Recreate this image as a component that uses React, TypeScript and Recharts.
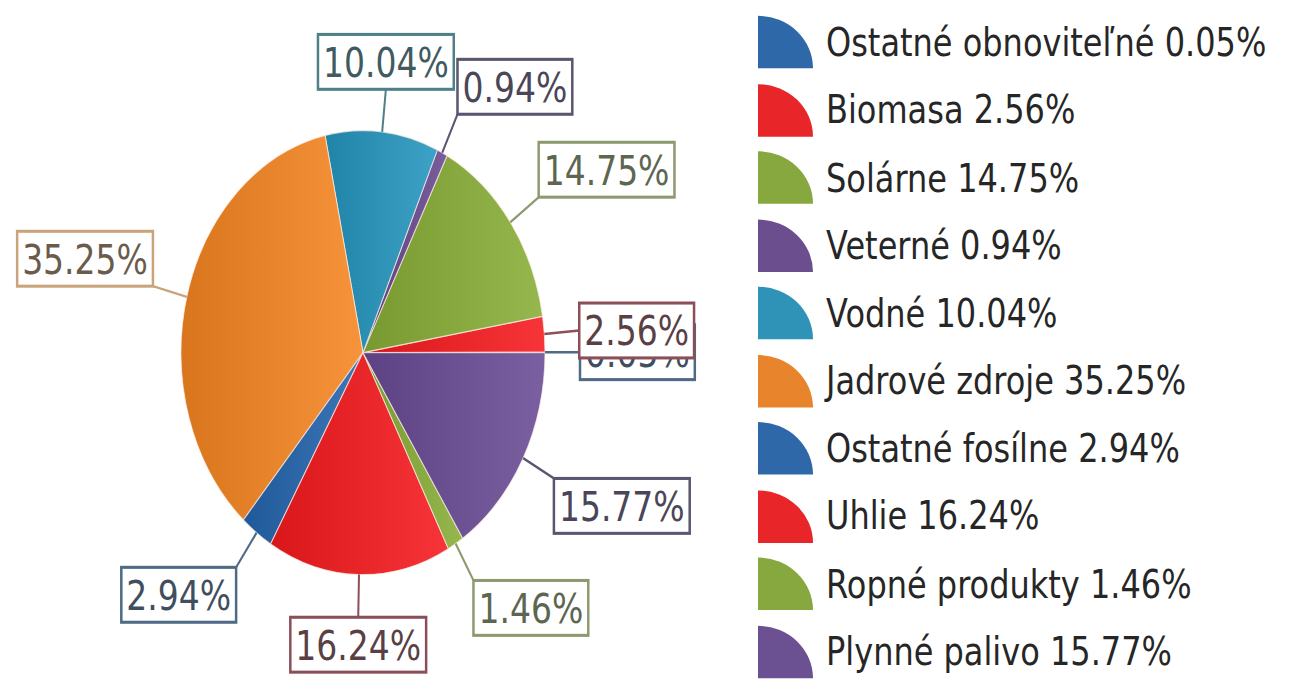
import { PieChart, Pie, Cell, Legend } from 'recharts';

const sources = [
  'Ostatné obnoviteľné',
  'Biomasa',
  'Solárne',
  'Veterné',
  'Vodné',
  'Jadrové zdroje',
  'Ostatné fosílne',
  'Uhlie',
  'Ropné produkty',
  'Plynné palivo',
];
const shares = [0.05, 2.56, 14.75, 0.94, 10.04, 35.25, 2.94, 16.24, 1.46, 15.77];
const colors = ['#2f68a8', '#e8262a', '#86a83e', '#6a4e8e', '#2e93b6', '#e8842c', '#2f68a8', '#e8262a', '#86a83e', '#6b5092'];
const borders = ['#4f6a86', '#8a4f58', '#8d9a70', '#5c5470', '#4f8088', '#c9a47a', '#4f6a86', '#8a4f58', '#8d9a70', '#5c5470'];
const inks = ['#3f4f60', '#5a3f45', '#5c6650', '#4a4658', '#3f5a60', '#6a5c4c', '#3f4f60', '#5a3f45', '#5c6650', '#4a4658'];

const data = sources.map((name, i) => ({ name, value: shares[i] }));

// the source image is stretched vertically
const STRETCH = 1.22;
const W = 1290;
const H = Math.round(698 / STRETCH);
const RAD = Math.PI / 180;
const LABEL_FONT = 33;

const charW: Record<string, number> = { '.': 0.318, '%': 0.95 };
const textWidth = (s: string, size: number) =>
  s.split('').reduce((acc, c) => acc + (charW[c] ?? 0.636), 0) * size;

const shade = (hex: string, amt: number) => {
  const n = parseInt(hex.slice(1), 16);
  const f = (v: number) => Math.max(0, Math.min(255, Math.round(v + amt * 255)));
  const r = f(n >> 16), g = f((n >> 8) & 255), b = f(n & 255);
  return `rgb(${r},${g},${b})`;
};

const renderLabel = (props: any) => {
  const { cx, cy, midAngle, outerRadius, index } = props;
  const cos = Math.cos(-midAngle * RAD);
  const sin = Math.sin(-midAngle * RAD);
  const sx = cx + outerRadius * cos;
  const sy = cy + outerRadius * sin;
  const ex = cx + (outerRadius + 35) * cos;
  const ey = cy + (outerRadius + 35) * sin;
  const text = `${shares[index].toFixed(2)}%`;
  const w = textWidth(text, LABEL_FONT) + 10;
  const h = 45;
  const bx = cos > 0.3 ? ex : cos < -0.3 ? ex - w : ex - w / 2;
  const by = sin < -0.2 ? ey - h : sin > 0.2 ? ey : ey - h / 2;
  return (
    <g key={`lbl-${index}`}>
      <line x1={sx} y1={sy} x2={ex} y2={ey} stroke={borders[index]} strokeWidth={2} />
      <rect x={bx} y={by} width={w} height={h} fill="#fff" stroke={borders[index]} strokeWidth={2.5} />
      <text
        x={bx + w / 2}
        y={by + h / 2 + 1}
        textAnchor="middle"
        dominantBaseline="central"
        fontSize={LABEL_FONT}
        fill={inks[index]}
      >
        {text}
      </text>
    </g>
  );
};

const renderLegend = () => (
  <div>
    {sources.map((s, i) => (
      <div key={s} style={{ display: 'flex', alignItems: 'center', height: 55.5 }}>
        <svg width={56} height={45} style={{ flex: 'none' }}>
          <path d={`M1,44 L1,1 A55,43 0 0 1 56,44 Z`} fill={colors[i]} />
        </svg>
        <span style={{ marginLeft: 13, fontSize: 32, color: '#262626', whiteSpace: 'nowrap' }}>
          {s} {shares[i].toFixed(2)}%
        </span>
      </div>
    ))}
  </div>
);

export default function App() {
  return (
    <div
      style={{
        position: 'absolute',
        left: 0,
        top: 0,
        width: W,
        height: H,
        background: '#fff',
        fontFamily: '"DejaVu Sans", Verdana, sans-serif',
        transform: `scaleY(${STRETCH})`,
        transformOrigin: '0 0',
      }}
    >
      <PieChart width={W} height={H} margin={{ top: 0, right: 0, bottom: 0, left: 0 }}>
        <defs>
          {colors.map((c, i) => (
            <linearGradient key={i} id={`slice-${i}`} x1="0" y1="0" x2="1" y2="0">
              <stop offset="0%" stopColor={shade(c, -0.06)} />
              <stop offset="100%" stopColor={shade(c, 0.06)} />
            </linearGradient>
          ))}
        </defs>
        <Pie
          data={data}
          dataKey="value"
          nameKey="name"
          cx={363}
          cy={289}
          outerRadius={182}
          startAngle={0}
          endAngle={360}
          stroke="rgba(255,240,230,0.7)"
          strokeWidth={1}
          label={renderLabel}
          labelLine={false}
          isAnimationActive={false}
        >
          {data.map((d, i) => (
            <Cell key={d.name} fill={`url(#slice-${i})`} />
          ))}
        </Pie>
        <Legend
          layout="vertical"
          align="right"
          verticalAlign="top"
          content={renderLegend}
          wrapperStyle={{ left: 757, top: 7, width: 533 }}
        />
      </PieChart>
    </div>
  );
}
